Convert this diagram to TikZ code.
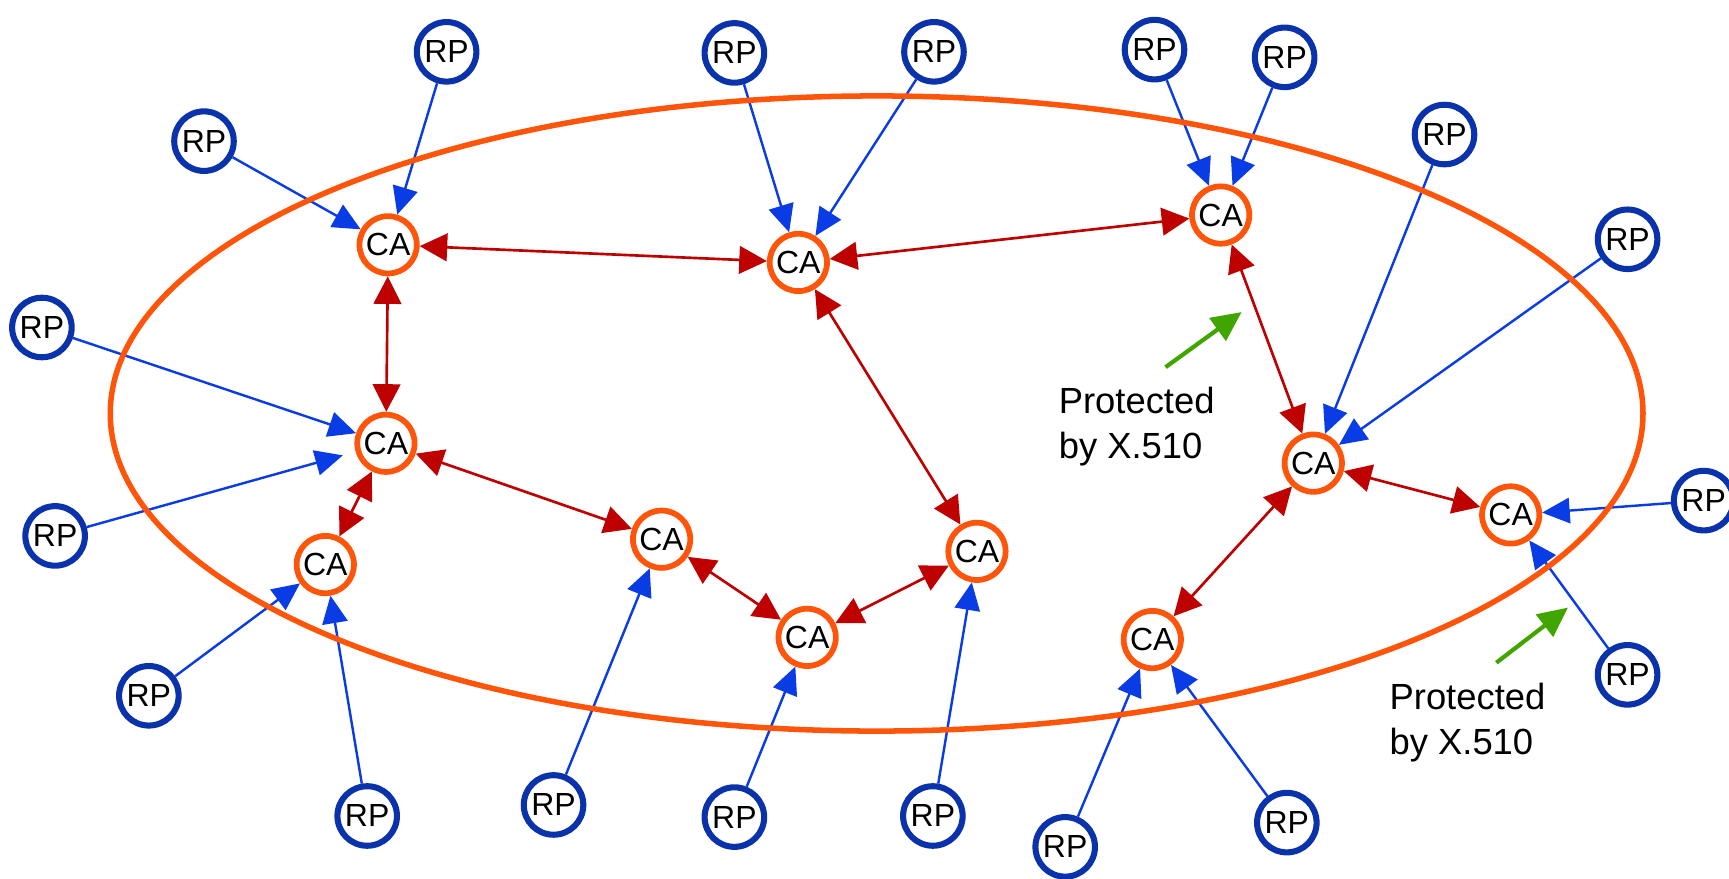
\documentclass[tikz,border=0pt]{standalone}
\usepackage{fontspec}
\setmainfont{Liberation Sans}
\usetikzlibrary{arrows.meta}
\definecolor{caorange}{RGB}{255,85,10}
\definecolor{rpblue}{RGB}{10,50,170}
\definecolor{linkblue}{RGB}{10,60,230}
\definecolor{linkred}{RGB}{190,0,0}
\definecolor{notegreen}{RGB}{65,165,0}
\begin{document}
\begin{tikzpicture}[x=1pt,y=-1pt,
  ca/.style={circle, draw=caorange, line width=5.2pt, fill=white, inner sep=0pt,
    minimum size=52pt, font=\fontsize{29}{31}\selectfont},
  rp/.style={circle, draw=rpblue, line width=5.5pt, fill=white, inner sep=0pt,
    minimum size=54pt, font=\fontsize{29}{31}\selectfont},
  rplink/.style={draw=linkblue, line width=2.2pt, -{Triangle[length=25pt,width=23pt]}},
  calink/.style={draw=linkred, line width=2.4pt,
    {Triangle[length=25pt,width=25pt]}-{Triangle[length=25pt,width=25pt]}},
  note/.style={align=left, inner sep=0pt, anchor=north west,
    font=\fontsize{33}{41}\selectfont},
  notearrow/.style={draw=notegreen, line width=3.8pt, -{Triangle[length=27pt,width=25pt]}},
  trustring/.style={draw=caorange, line width=5pt}]
\useasboundingbox (0,0) rectangle (1568,797);

% certification authorities
\node[ca] (ca1)  at (352,222) {CA};
\node[ca] (ca2)  at (724,238) {CA};
\node[ca] (ca3)  at (1107,195) {CA};
\node[ca] (ca4)  at (350,402) {CA};
\node[ca] (ca5)  at (295,512) {CA};
\node[ca] (ca6)  at (600,489) {CA};
\node[ca] (ca7)  at (732,578) {CA};
\node[ca] (ca8)  at (886,500) {CA};
\node[ca] (ca9)  at (1191,420) {CA};
\node[ca] (ca10) at (1370,467) {CA};
\node[ca] (ca11) at (1045,580) {CA};

% relying parties
\node[rp] (rpa) at (405,47)   {RP};
\node[rp] (rpb) at (185,128)  {RP};
\node[rp] (rpc) at (38,297)   {RP};
\node[rp] (rpd) at (50,486)   {RP};
\node[rp] (rpe) at (135,631)  {RP};
\node[rp] (rpf) at (333,740)  {RP};
\node[rp] (rpg) at (502,730)  {RP};
\node[rp] (rph) at (666,741)  {RP};
\node[rp] (rpi) at (846,740)  {RP};
\node[rp] (rpj) at (666,48)   {RP};
\node[rp] (rpk) at (847,47)   {RP};
\node[rp] (rpl) at (1047,45)  {RP};
\node[rp] (rpm) at (1165,52)  {RP};
\node[rp] (rpn) at (1310,122) {RP};
\node[rp] (rpo) at (1476,217) {RP};
\node[rp] (rpp) at (1545,454) {RP};
\node[rp] (rpq) at (1476,612) {RP};
\node[rp] (rpr) at (966,768)  {RP};
\node[rp] (rps) at (1167,746) {RP};

% relying party to CA links
\draw[rplink] (rpa) -- (ca1);
\draw[rplink] (rpb) -- (ca1);
\draw[rplink] (rpc) -- (ca4);
\draw[rplink, shorten >=12pt] (rpd) -- (ca4);
\draw[rplink] (rpe) -- (ca5);
\draw[rplink] (rpf) -- (ca5);
\draw[rplink] (rpg) -- (ca6);
\draw[rplink] (rph) -- (ca7);
\draw[rplink] (rpi) -- (ca8);
\draw[rplink] (rpj) -- (ca2);
\draw[rplink] (rpk) -- (ca2);
\draw[rplink] (rpl) -- (ca3);
\draw[rplink] (rpm) -- (ca3);
\draw[rplink] (rpn) -- (ca9);
\draw[rplink] (rpo) -- (ca9);
\draw[rplink] (rpp) -- (ca10);
\draw[rplink] (rpq) -- (ca10);
\draw[rplink] (rpr) -- (ca11);
\draw[rplink] (rps) -- (ca11);

% cross-certification between CAs
\draw[calink] (ca1) -- (ca2);
\draw[calink] (ca2) -- (ca3);
\draw[calink] (ca1) -- (ca4);
\draw[calink] (ca4) -- (ca5);
\draw[calink] (ca4) -- (ca6);
\draw[calink] (ca2) -- (ca8);
\draw[calink] (ca6) -- (ca7);
\draw[calink] (ca7) -- (ca8);
\draw[calink] (ca3) -- (ca9);
\draw[calink] (ca9) -- (ca10);
\draw[calink] (ca9) -- (ca11);

% annotations
\node[note] (n1) at (960,351) {Protected\\by X.510};
\node[note] (n2) at (1260,619) {Protected\\by X.510};
\coordinate (g1s) at (1057,333);
\coordinate (g1e) at (1126,283);
\coordinate (g2s) at (1357,601);
\coordinate (g2e) at (1422,551);
\draw[notearrow] (g1s) -- (g1e);
\draw[notearrow] (g2s) -- (g2e);

% trust domain boundary
\draw[trustring] (795,375) ellipse [x radius=695, y radius=288];
\end{tikzpicture}
\end{document}
